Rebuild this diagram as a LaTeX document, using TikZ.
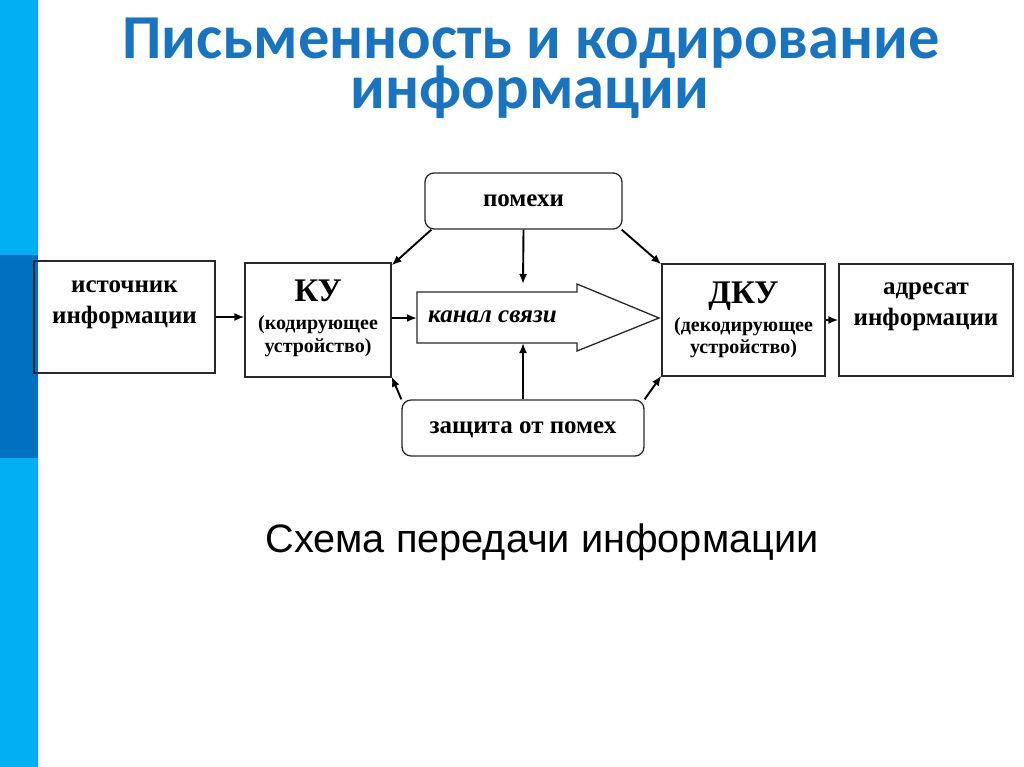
\documentclass[tikz,border=0pt]{standalone}
\usepackage{fontspec}
\setmainfont{Liberation Serif}
\newfontfamily\titlefont{Carlito}
\newfontfamily\capfont{Liberation Sans}
\usetikzlibrary{arrows.meta}
\definecolor{lightbar}{RGB}{0,176,240}
\definecolor{darkbar}{RGB}{0,112,192}
\definecolor{titleblue}{RGB}{24,116,192}
\definecolor{boxline}{RGB}{40,40,40}
\tikzset{
  box/.style={draw=boxline, line width=1.3pt, rectangle, inner sep=0pt},
  rbox/.style={box, rounded corners=9pt},
  boxtxt/.style={font=\fontsize{25}{29}\selectfont\bfseries, inner sep=0pt, anchor=base},
  bigtxt/.style={font=\fontsize{33}{36}\selectfont\bfseries, inner sep=0pt, anchor=base},
  smalltxt/.style={font=\fontsize{20}{23}\selectfont\bfseries, inner sep=0pt, anchor=base},
  titletxt/.style={font=\fontsize{62.5}{66}\titlefont\bfseries, text=titleblue, anchor=base, inner sep=0pt},
  arr/.style={line width=1.9pt, -{Latex[length=10pt,width=8pt]}},
}
\begin{document}
\begin{tikzpicture}[x=1pt,y=-1pt]
\useasboundingbox (0,0) rectangle (1024,767);
\fill[white] (0,0) rectangle (1024,767);
% left bar
\fill[lightbar] (0,0) rectangle (38,767);
\fill[darkbar] (0,255) rectangle (38,458);
% title
\node[titletxt] (t1) at (531,59) {Письменность и кодирование};
\node[titletxt] (t2) at (530,109) {информации};
% boxes
\node[box, minimum width=181pt, minimum height=112pt] (src) at (124.5,317) {};
\node[boxtxt] (srct1) at (124.5,292) {источник};
\node[boxtxt] (srct2) at (124.5,323) {информации};
\node[box, minimum width=146pt, minimum height=114pt] (ku) at (318,320) {};
\node[bigtxt] (kut) at (318,301) {КУ};
\node[smalltxt] (kus1) at (318,329) {(кодирующее};
\node[smalltxt] (kus2) at (318,352) {устройство)};
\node[box, minimum width=163pt, minimum height=112pt] (dku) at (743.5,320) {};
\node[bigtxt] (dkut) at (743.5,303) {ДКУ};
\node[smalltxt] (dkus1) at (743.5,331) {(декодирующее};
\node[smalltxt] (dkus2) at (743.5,353) {устройство)};
\node[box, minimum width=174pt, minimum height=112pt] (dst) at (926,320) {};
\node[boxtxt] (dstt1) at (926,294) {адресат};
\node[boxtxt] (dstt2) at (926,325) {информации};
\node[rbox, minimum width=197pt, minimum height=56pt] (pom) at (523.5,201) {};
\node[boxtxt] (pomt) at (523.5,207) {помехи};
\node[rbox, minimum width=242pt, minimum height=56pt] (zas) at (523,428) {};
\node[boxtxt] (zast) at (523,433) {защита от помех};
% channel arrow
\draw[draw=boxline, line width=1.3pt, fill=white] (417,292) coordinate (chnw) -- (577,292) -- (577,284) -- (659,318) coordinate (chtip) -- (577,351) -- (577,343) -- (417,343) coordinate (chsw) -- cycle;
\coordinate (chin) at (417,318);
\coordinate (chtop) at (523,284);
\coordinate (chbot) at (523,343);
\node[font=\fontsize{25}{28}\selectfont\bfseries\itshape, inner sep=0pt, anchor=base west] (cht) at (428,322) {канал связи};
% connectors
\draw[arr] (src.east) -- (ku.west |- src.east);
\draw[arr] (ku.east |- chin) -- (chin);
\draw[arr] (dku.east |- dst.west) -- (dst.west);
\draw[arr] (pom.south) -- (chtop);
\draw[arr] (zas.north) -- (chbot);
\draw[arr] ([xshift=7pt]pom.south west) -- ([yshift=-3pt]ku.north east);
\draw[arr] ([xshift=-1pt]pom.south east) -- ([yshift=-1pt]dku.north west);
\draw[arr] (zas.north west) -- ([yshift=1pt]ku.south east);
\draw[arr] (zas.north east) -- ([yshift=1pt]dku.south west);
% caption
\node[font=\fontsize{39.7}{44}\capfont, anchor=base, inner sep=0pt] (cap) at (542,552) {Схема передачи информации};
\end{tikzpicture}
\end{document}
